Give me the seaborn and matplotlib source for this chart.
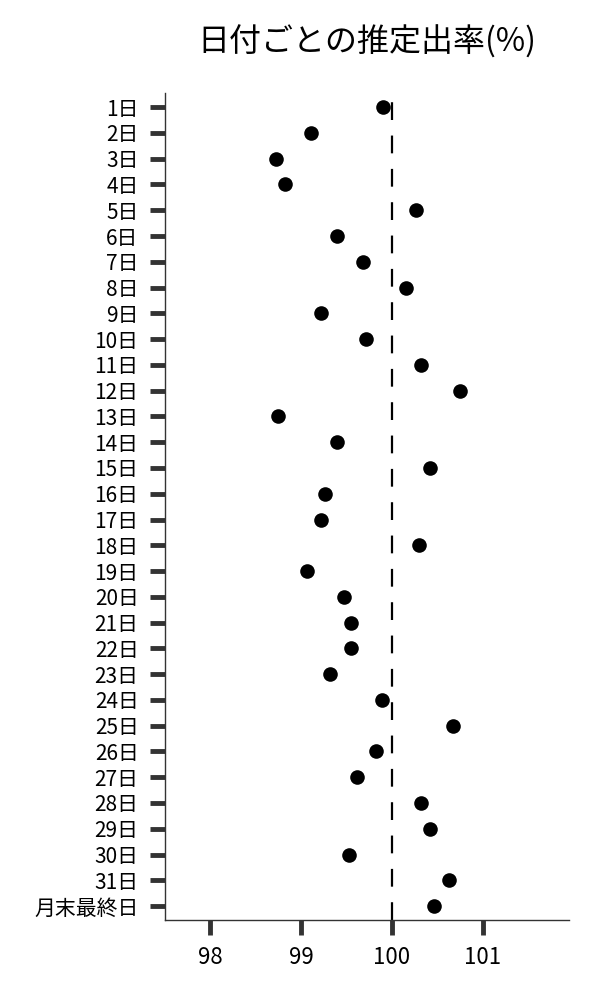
import pandas as pd
import seaborn as sns
import matplotlib
matplotlib.use("Agg")
import matplotlib.pyplot as plt

# Data
days = ["1日", "2日", "3日", "4日", "5日", "6日", "7日", "8日", "9日", "10日",
        "11日", "12日", "13日", "14日", "15日", "16日", "17日", "18日", "19日", "20日",
        "21日", "22日", "23日", "24日", "25日", "26日", "27日", "28日", "29日", "30日",
        "31日", "月末最終日"]
rates = [99.90, 99.11, 98.72, 98.82, 100.27, 99.39, 99.68, 100.16, 99.22, 99.72,
         100.32, 100.75, 98.75, 99.39, 100.42, 99.26, 99.22, 100.30, 99.06, 99.47,
         99.55, 99.55, 99.32, 99.89, 100.67, 99.83, 99.62, 100.32, 100.42, 99.53,
         100.63, 100.46]
x_ticks = [98, 99, 100, 101]

df = pd.DataFrame({"day": days, "rate": rates})

sns.set_style("ticks")
plt.rcParams["font.family"] = ["Noto Sans CJK JP", "DejaVu Sans"]
plt.rcParams["text.color"] = "black"

fig, ax = plt.subplots(figsize=(6, 10), dpi=100)
fig.subplots_adjust(left=0.275, right=0.948, bottom=0.08, top=0.907)

sns.stripplot(data=df, x="rate", y="day", order=days, jitter=False,
              color="black", size=10.5, linewidth=0, ax=ax, zorder=3)

# reference line at 100%
ax.axvline(100, color="black", lw=1.6, linestyle=(0, (8, 7)), zorder=2)

ax.set_xlim(97.5, 101.95)
ax.set_ylim(len(days) - 0.46, -0.55)
ax.set_xticks(x_ticks)
ax.set_xlabel("")
ax.set_ylabel("")

sns.despine(ax=ax)
for side in ["left", "bottom"]:
    ax.spines[side].set_color("#333333")
    ax.spines[side].set_linewidth(1.0)

ax.tick_params(axis="both", length=11, width=3.5, color="#333333", labelcolor="black")
ax.tick_params(axis="y", labelsize=15, pad=8)
ax.tick_params(axis="x", labelsize=16, pad=8)

ax.set_title("日付ごとの推定出率(%)", fontsize=23, pad=30, color="black")

fig.savefig("out.png", dpi=100)
